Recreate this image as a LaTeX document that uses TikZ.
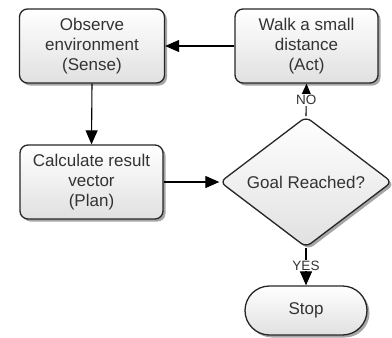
\documentclass[tikz,border=0pt]{standalone}
\usepackage{fontspec}
\setmainfont{Liberation Sans}
\usetikzlibrary{shapes.geometric,shapes.misc,shadows,arrows.meta}
\definecolor{txt}{HTML}{333333}
\tikzset{
  base/.style={draw=black!85, line width=1.3pt, top color=white, bottom color=black!12,
    text=txt, font=\fontsize{17}{20}\selectfont, align=center, inner sep=0pt,
    drop shadow={shadow xshift=2.5pt, shadow yshift=-2.5pt, fill=black, opacity=0.35}},
  procbox/.style={base, rectangle, rounded corners=8pt, minimum width=145pt, minimum height=74pt},
  decbox/.style={base, diamond, rounded corners=6pt, minimum width=172pt, minimum height=106pt},
  termbox/.style={base, rounded rectangle, minimum width=122pt, minimum height=49pt},
  tipshape/.tip={Triangle[length=14pt,width=12pt]},
  conn/.style={draw=black, line width=1.1pt, -tipshape},
  lbl/.style={fill=white, text=txt, font=\fontsize{13.5}{14}\selectfont, inner sep=1pt}
}
\begin{document}
\begin{tikzpicture}[x=1pt,y=-1pt]
\useasboundingbox (0,0) rectangle (392,338);
\node[procbox] (obs) at (92,46) {Observe\\environment\\(Sense)};
\node[procbox, minimum width=143pt] (walk) at (306.5,46) {Walk a small\\distance\\(Act)};
\node[procbox, minimum width=143pt] (calc) at (91.5,182) {Calculate result\\vector\\(Plan)};
\node[decbox] (goal) at (306,182) {Goal Reached?};
\node[termbox] (stop) at (306,310.5) {Stop};
\draw[conn] (walk.west) -- (obs.east);
\draw[conn] (obs.south) -- (calc.north);
\draw[conn] (calc.east) -- (goal.west);
\draw[conn] (goal.north) -- node[lbl, pos=0.5] (no) {NO} (walk.south);
\draw[conn] (goal.south) -- node[lbl, pos=0.47] (yes) {YES} (stop.north);
\end{tikzpicture}
\end{document}
